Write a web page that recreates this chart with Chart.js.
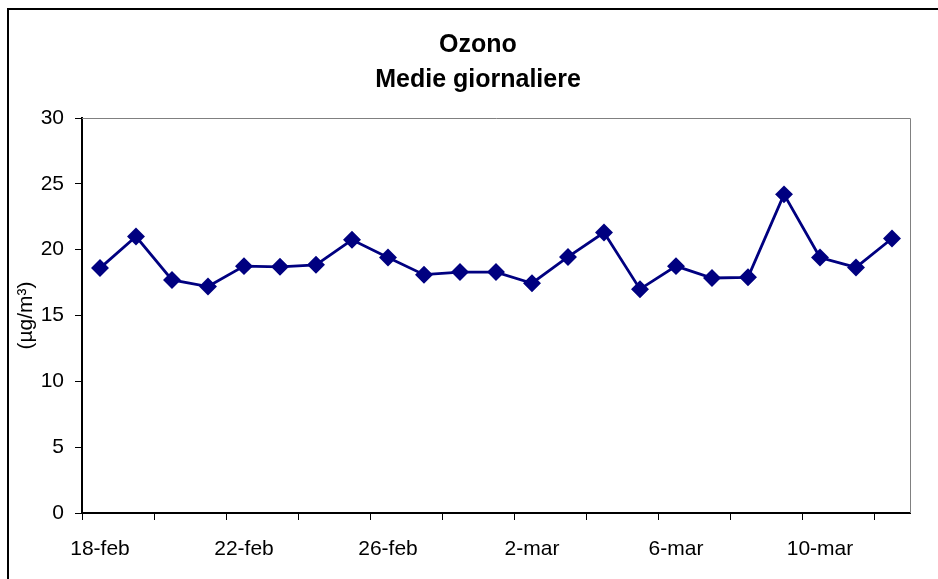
<!DOCTYPE html>
<html>
<head>
<meta charset="utf-8">
<script src="https://cdn.jsdelivr.net/npm/chart.js@4"></script>
<style>
  body { margin: 0; background: #fff; }
  #wrap { position: relative; width: 938px; height: 579px; }
  #frame { position: absolute; left: 7px; top: 8px; right: 0; bottom: 0;
           border-top: 2px solid #000; border-left: 2px solid #000; pointer-events: none; }
  canvas { position: absolute; left: 0; top: 0; }
</style>
</head>
<body>
<div id="wrap">
  <canvas id="ozonoChart" width="938" height="579"></canvas>
  <div id="frame"></div>
</div>
<script>
const days = ["18-feb", "19-feb", "20-feb", "21-feb", "22-feb", "23-feb", "24-feb", "25-feb",
  "26-feb", "27-feb", "28-feb", "1-mar", "2-mar", "3-mar", "4-mar", "5-mar", "6-mar",
  "7-mar", "8-mar", "9-mar", "10-mar", "11-mar", "12-mar"];
const ozono = [18.6, 21.0, 17.7, 17.2, 18.75, 18.7, 18.85, 20.75, 19.4, 18.1, 18.3, 18.3,
  17.45, 19.45, 21.3, 17.0, 18.75, 17.85, 17.9, 24.2, 19.4, 18.65, 20.85];
const titleLines = ["Ozono", "Medie giornaliere"];
const yLabel = "(\u00b5g/m\u00b3)";

const font = "'Liberation Sans', Arial, sans-serif";

// title + top/right plot border (gray, like the original)
const extras = {
  id: "extras",
  beforeDatasetsDraw(chart) {
    const a = chart.chartArea;
    const ctx = chart.ctx;
    ctx.save();
    ctx.strokeStyle = "#808080";
    ctx.lineWidth = 1;
    ctx.beginPath();
    ctx.moveTo(a.left, a.top + 0.5);
    ctx.lineTo(a.right + 0.5, a.top + 0.5);
    ctx.lineTo(a.right + 0.5, a.bottom);
    ctx.stroke();
    ctx.restore();
  },
  afterDraw(chart) {
    const ctx = chart.ctx;
    ctx.save();
    ctx.fillStyle = "#000";
    ctx.font = "bold 25px " + font;
    ctx.textAlign = "center";
    ctx.textBaseline = "middle";
    ctx.fillText(titleLines[0], 478, 45);
    ctx.fillText(titleLines[1], 478, 80);
    ctx.restore();
  }
};

new Chart("ozonoChart", {
  type: "line",
  data: {
    labels: days,
    datasets: [{
      data: ozono,
      borderColor: "#000080",
      backgroundColor: "#000080",
      borderWidth: 2.8,
      pointStyle: "rectRot",
      pointRadius: 7,
      pointHoverRadius: 7,
      tension: 0
    }]
  },
  options: {
    responsive: false,
    animation: false,
    layout: { padding: { left: 0, right: 28, top: 118, bottom: 0 } },
    plugins: {
      legend: { display: false },
      title: { display: false },
      tooltip: { enabled: false }
    },
    scales: {
      x: {
        offset: true,
        afterFit(s) { s.height = 66; },
        grid: {
          offset: true,
          drawOnChartArea: false,
          tickLength: 7,
          tickColor: (c) => (c.index % 2 === 0 ? "#000" : "rgba(0,0,0,0)")
        },
        border: { color: "#000", width: 2 },
        ticks: {
          autoSkip: false,
          maxRotation: 0,
          padding: 17,
          color: "#000",
          font: { family: font, size: 21 },
          callback: function (v, i) { return i % 4 === 0 ? this.getLabelForValue(v) : ""; }
        }
      },
      y: {
        min: 0,
        max: 30,
        afterFit(s) { s.width = 82; },
        grid: { drawOnChartArea: false, tickLength: 7, tickColor: "#000" },
        border: { color: "#000", width: 2 },
        ticks: {
          stepSize: 5,
          padding: 11,
          color: "#000",
          font: { family: font, size: 21 }
        },
        title: {
          display: true,
          text: yLabel,
          color: "#000",
          padding: { top: 14, bottom: 0 },
          font: { family: font, size: 21 }
        }
      }
    }
  },
  plugins: [extras]
});
</script>
</body>
</html>
